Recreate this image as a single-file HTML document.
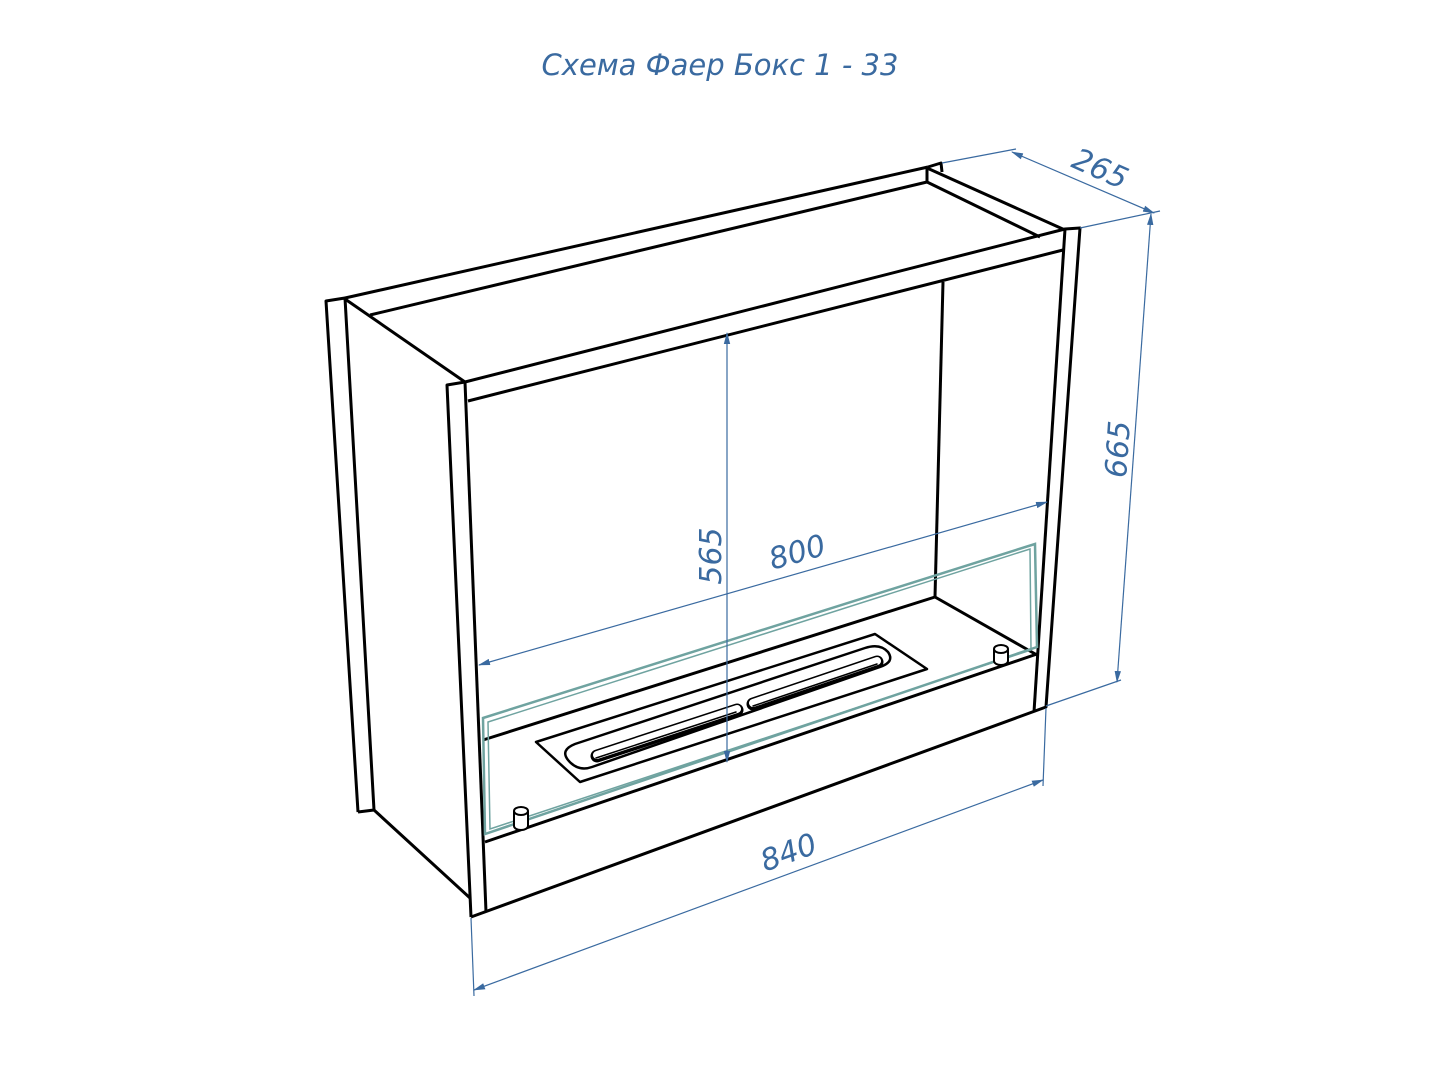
<!DOCTYPE html>
<html><head><meta charset="utf-8"><style>
html,body{margin:0;padding:0;background:#fff;width:1440px;height:1080px;overflow:hidden}
svg{display:block}
text{font-family:"DejaVu Sans","Liberation Sans",sans-serif;fill:#3a6aa0;font-style:italic}
</style></head><body>
<svg width="1440" height="1080" viewBox="0 0 1440 1080">
<text x="720" y="75" font-size="29" text-anchor="middle">Схема Фаер Бокс 1 - 33</text>
<g stroke="#000" stroke-width="3" fill="none" stroke-linejoin="round">
<polyline points="358,812 326,301 345,298 374,810 358,812"/>
<line x1="345" y1="298" x2="928" y2="167"/>
<polyline points="928,167 941,163 942,172"/>
<line x1="370" y1="315" x2="927" y2="182"/>
<line x1="927" y1="168" x2="927" y2="182"/>
<line x1="345" y1="299" x2="465" y2="382"/>
<line x1="374" y1="810" x2="470" y2="898"/>
<line x1="927" y1="168" x2="1065" y2="230"/>
<line x1="927" y1="182" x2="1040" y2="237"/>
<polyline points="471,917 447,385 465,382 1065,229 1080,228 1046,707 471,917"/>
<line x1="465" y1="382" x2="486" y2="912"/>
<line x1="468" y1="401" x2="1063" y2="250"/>
<line x1="1065" y1="229" x2="1034" y2="712"/>
<line x1="485" y1="842" x2="1037" y2="654"/>
<line x1="943" y1="282" x2="935" y2="597"/>
<line x1="935" y1="597" x2="1037" y2="655"/>
<line x1="483" y1="740" x2="935" y2="597"/>
<polygon points="536,742 580,782 927,669 875,634" stroke-width="2.5"/>
<path d="M575,744 L865,648 Q880,643 888,652 Q895,662 880,667 L592,767 Q578,772 568,760 Q560,750 575,744 Z" stroke-width="2.5"/>
</g>
<g stroke-linecap="round">
<line x1="597" y1="756" x2="737" y2="710" stroke="#000" stroke-width="13"/>
<line x1="597" y1="755" x2="737" y2="709" stroke="#fff" stroke-width="8"/>
<line x1="596" y1="758" x2="736" y2="712" stroke="#000" stroke-width="1.5"/>
<line x1="753" y1="704" x2="877" y2="662" stroke="#000" stroke-width="13"/>
<line x1="753" y1="703" x2="877" y2="661" stroke="#fff" stroke-width="8"/>
<line x1="753" y1="706" x2="877" y2="664" stroke="#000" stroke-width="1.5"/>
</g>
<g stroke="#6fa3a0" stroke-width="2.5" fill="none">
<polygon points="483,718 1035,544 1037,647 485,834"/>
<polygon points="488,722 1030,549 1031,650 490,829" stroke-width="1.5"/>
</g>
<g stroke="#000" stroke-width="2" fill="#fff">
<path d="M514,811 L514,826 A7,4 0 0 0 528,826 L528,811"/>
<ellipse cx="521" cy="811" rx="7" ry="4"/>
<path d="M994,649 L994,661 A7,4 0 0 0 1008,661 L1008,649"/>
<ellipse cx="1001" cy="649" rx="7" ry="4"/>
</g>
<defs><marker id="a" markerWidth="12" markerHeight="8" refX="11" refY="4" orient="auto-start-reverse" markerUnits="userSpaceOnUse"><path d="M0,0.8 L12,4 L0,7.2 Z" fill="#3a6aa0"/></marker></defs>
<g stroke="#3a6aa0" stroke-width="1.2" fill="none">
<line x1="942" y1="163" x2="1016" y2="149"/>
<line x1="1080" y1="228" x2="1160" y2="211"/>
<line x1="1012" y1="152" x2="1154" y2="213" marker-start="url(#a)" marker-end="url(#a)"/>
<line x1="1046" y1="706" x2="1121" y2="680"/>
<line x1="1151" y1="214" x2="1117" y2="682" marker-start="url(#a)" marker-end="url(#a)"/>
<line x1="471" y1="918" x2="474" y2="996"/>
<line x1="1046" y1="708" x2="1043" y2="786"/>
<line x1="474" y1="990" x2="1043" y2="780" marker-start="url(#a)" marker-end="url(#a)"/>
<line x1="479" y1="665" x2="1047" y2="502" marker-start="url(#a)" marker-end="url(#a)"/>
<line x1="727" y1="333" x2="727" y2="762" marker-start="url(#a)" marker-end="url(#a)"/>
</g>
<text font-size="30" transform="translate(1096,178) rotate(24)" text-anchor="middle">265</text>
<text font-size="30" transform="translate(1128,450) rotate(-86)" text-anchor="middle">665</text>
<text font-size="30" transform="translate(792,862) rotate(-20)" text-anchor="middle">840</text>
<text font-size="30" transform="translate(800,562) rotate(-16)" text-anchor="middle">800</text>
<text font-size="30" transform="translate(721,556) rotate(-90)" text-anchor="middle">565</text>
</svg>
</body></html>
